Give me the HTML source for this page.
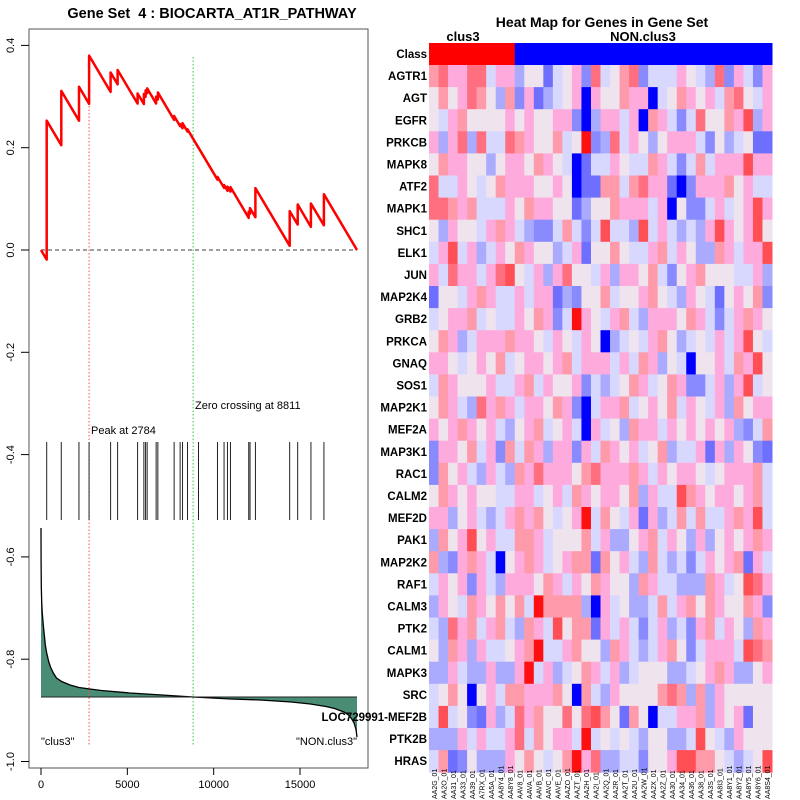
<!DOCTYPE html>
<html><head><meta charset="utf-8"><style>
body{margin:0;background:#fff}
svg{display:block;font-family:"Liberation Sans",sans-serif}
</style></head><body>
<svg id="c" width="800" height="800" viewBox="0 0 800 800" xmlns="http://www.w3.org/2000/svg">
<text x="212" y="18" font-size="14.5" font-weight="bold" text-anchor="middle" xml:space="preserve">Gene Set  4 : BIOCARTA_AT1R_PATHWAY</text>
<rect x="29" y="29" width="339" height="739" fill="none" stroke="#555" stroke-width="1"/>
<g id="left"></g>
<text x="602" y="27" font-size="14" font-weight="bold" text-anchor="middle">Heat Map for Genes in Gene Set</text>
<text x="463" y="41" font-size="13" font-weight="bold" text-anchor="middle">clus3</text>
<text x="643" y="41" font-size="13" font-weight="bold" text-anchor="middle">NON.clus3</text>
<g id="heat"></g>
</svg>
<script>
const NS="http://www.w3.org/2000/svg";
const N=18300;
const hitRanks=[330,1174,2198,2784,4031,4436,5593,5957,6055,6148,6668,6767,7710,8057,8196,8485,9121,10220,10601,10798,10972,12030,12105,12418,14400,14864,15633,16385];
const esTop=[0.253,0.311,0.319,0.380,0.347,0.352,0.306,0.305,0.312,0.316,0.300,0.308,0.262,0.246,0.248,0.236,0.200,0.143,0.127,0.124,0.123,0.075,0.082,0.121,0.076,0.089,0.091,0.109];
const yTicks=[0.4,0.2,0.0,-0.2,-0.4,-0.6,-0.8,-1.0];
const yTickLabels=["0.4","0.2","0.0","-0.2","-0.4","-0.6","-0.8","-1.0"];
const xTicks=[0,5000,10000,15000];
const metricRanks=[0,8,20,40,70,133,200,250,330,450,550,711,900,1200,1677,2200,2834,3500,5147,7000,8811,11000,12700,14500,15600,16500,17000,17550,17800,18000,18130,18250,18300];
const metricVals=[1.69,1.35,1.1,0.95,0.85,0.72,0.6,0.52,0.44,0.35,0.30,0.24,0.19,0.155,0.12,0.095,0.08,0.065,0.04,0.02,0,-0.02,-0.03,-0.05,-0.07,-0.095,-0.115,-0.15,-0.18,-0.22,-0.26,-0.33,-0.40];
const peakRank=2784, zeroRank=8811;
const genes=["AGTR1","AGT","EGFR","PRKCB","MAPK8","ATF2","MAPK1","SHC1","ELK1","JUN","MAP2K4","GRB2","PRKCA","GNAQ","SOS1","MAP2K1","MEF2A","MAP3K1","RAC1","CALM2","MEF2D","PAK1","MAP2K2","RAF1","CALM3","PTK2","CALM1","MAPK3","SRC","LOC729991-MEF2B","PTK2B","HRAS"];
const samples=["AA2G","AA2O","AA31","AA33","AA39","A7RX","AA5A","AA8Y4","AA8Y8","AAV8","AAVA","AAVB","AAVC","AAVE","AAZO","AAZT","AA2H","AA2I","AA2Q","AA2R","AA2T","AA2U","AA2W","AA2X","AA2Z","AA30","AA34","AA36","AA38","AA3S","AA8I3","AA8Y1","AA8Y2","AA8Y5","AA8Y6","AA8S4"];
const nClus3=9;
const rows=["qrpprrdppceebdepmrdeqrmdddpedcrmpdmp","eqeprqecqmpbcdepBpeeqppBdeqpepdqredp","edpqeeeepepeeppmBcppdpBqpdmdreeqpscp","pcprcrddrqpeeqdeRmcrdpecepppdmecdebbq","eqppeeceppeqpedBbddpeddqpdmdqdpppspp","rddpedeqpppeepeBbbqqdqrppbBmpppqepdd","rrqpqdddpeqppeebceeqpppdpBemmdpdepsp","ecpeedpqpdcmmdqdmdsddcsdpdcdcpspepse","dpsdpcdpeqpeecdpbeeqeddpqdpeccqpdpps","pdrppdprsedpcpreedpcppeqdmepqeeeddpc","beedpqpddpdppbcmeeqdeepqedcpedbepeqm","deppqdeddpeqpmdRpedpqdcpppeqpdmdpqpe","eqpcdpppqppedpedpeBcdedpqecdedpdpsed","ppedepeqdeppepqdpppdpdqpcedBeepdqpse","dqpeeepddpqdpeepmdcdeqpdeqpmmdpcpsde","eqpdcrpqpdppeqpmBdppqdepeqdpedpcqepp","pepqpepdcepqdepdBpdecqppdpepepepcmdq","mppeqdpmqdqpcppmpdqpepdeqcddpbpcpemb","mqepdcpdcqprpppeqrpppqpdpeppedepppqd","eqpepeeddppdepdqpeppeqcpddsqpeppepqd","ppcepdcdpqpqedepRdqedpbpcdqdqddpqpsd","cqepsepddqqpdeeeqdpccepqdpecpcepepqp","qcmpqpdBepqpdepqqbqepdcqdcdmdpepqbpd","dpepmpdcpppeqpdpeqpeecqpddcccqpdesrp","cpedqpeqeqdRqqqqcBpdeccdqdpqeqpeeqpm","dcrpqdpqdcqpdseqqbpdpdmdpcdmpqdpecqp","ecqpcpddepqRddpqeecqpdcdpqemdpppdsrq","ccpdccpccpRdpcdeqpdpcdeeeccdepqpccep","deqeBepdqqpppqeBqdcpeeeeqrqcqcpeeeee","dsdembpcdrpqeerersqebqeBddppqcpepbee","cccpdpddprdqeppdRdededceeccdsedcpeee","dqbmecccpeqedeqRprccddmeepssqqedcdes"];
const pal={B:"#0000ff",b:"#6f6fff",m:"#8a8aff",c:"#aaaaff",d:"#d8d8ff",e:"#efe3ee",p:"#ffaadd",q:"#ff9aaa",r:"#ff6f80",s:"#ff4f55",R:"#ff1010"};

const xS=r=>41+r*(316/N);
const yS=v=>250-v*511.5;
const mY=v=>697-v*100;
function el(tag,attrs,parent){const e=document.createElementNS(NS,tag);for(const k in attrs)e.setAttribute(k,attrs[k]);parent.appendChild(e);return e;}
const L=document.getElementById('left');

yTicks.forEach((v,i)=>{
 const y=yS(v);
 const t=el('line',{x1:21,x2:29,y1:y,y2:y,stroke:'#000'},L);
 
 
 const tx=el('text',{x:14,y:y,'font-size':11,'text-anchor':'middle',transform:`rotate(-90 14 ${y})`},L);
 tx.textContent=yTickLabels[i];
 
 
});
xTicks.forEach(v=>{
 const x=xS(v);
 const t=el('line',{x1:x,x2:x,y1:768,y2:775,stroke:'#000'},L);
 
 
 const tx=el('text',{x:x,y:788,'font-size':11,'text-anchor':'middle'},L);
 tx.textContent=String(v);
 
 
});

let mp=metricRanks.map((r,i)=>`${xS(r).toFixed(1)},${mY(metricVals[i]).toFixed(1)}`);
const area=el('polygon',{points:`${xS(0)},${mY(0)} `+mp.join(' ')+` ${xS(N)},${mY(0)}`,fill:'#4a8d75'},L);


const mline=el('polyline',{points:mp.join(' '),fill:'none',stroke:'#000','stroke-width':1.3},L);


const base=el('line',{x1:xS(0),x2:xS(N),y1:mY(0),y2:mY(0),stroke:'#222','stroke-width':1},L);



const pl=el('line',{x1:xS(peakRank),x2:xS(peakRank),y1:78,y2:745,stroke:'#ff5050','stroke-dasharray':'1.5 2'},L);


const zl=el('line',{x1:xS(zeroRank),x2:xS(zeroRank),y1:57,y2:745,stroke:'#33cc33','stroke-dasharray':'1.5 2'},L);


const zero=el('line',{x1:xS(0),x2:xS(N),y1:yS(0),y2:yS(0),stroke:'#666','stroke-width':1.3,'stroke-dasharray':'4 3'},L);



hitRanks.forEach(r=>{
 const h=el('line',{x1:xS(r),x2:xS(r),y1:442,y2:520,stroke:'#222','stroke-width':1},L);
 
 
});

const slope=esTop[esTop.length-1]/(N-hitRanks[hitRanks.length-1]);
let pts=[[0,0]];let prevR=0,prevV=0;
hitRanks.forEach((r,i)=>{const v=prevV-slope*(r-prevR);pts.push([r,v]);pts.push([r,esTop[i]]);prevR=r;prevV=esTop[i];});
pts.push([N,prevV-slope*(N-prevR)]);
const es=el('polyline',{points:pts.map(p=>`${xS(p[0]).toFixed(1)},${yS(p[1]).toFixed(1)}`).join(' '),fill:'none',stroke:'#ff0000','stroke-width':2.5,'stroke-linejoin':'round'},L);



function txt(x,y,s,name,extra){const t=el('text',Object.assign({x:x,y:y,'font-size':11},extra||{}),L);t.textContent=s;}
txt(91,434,'Peak at 2784','peak-label');
txt(195,409,'Zero crossing at 8811','zero-crossing-label');
txt(41,745,'"clus3"','clus3-label');
txt(357,745,'"NON.clus3"','non-clus3-label',{'text-anchor':'end'});

const H=document.getElementById('heat');
const hx0=429,hx1=772,cw=(hx1-hx0)/samples.length,rh=22.1,cy0=43,ry0=65,lx=427;
samples.forEach((s,j)=>{
 const r=el('rect',{x:hx0+j*cw,y:cy0,width:cw+0.5,height:22,fill:j<nClus3?'#ff0000':'#0000ff'},H);
 
 
});
const cl=el('text',{x:lx,y:58,'font-size':11.5,'font-weight':'bold','text-anchor':'end'},H);cl.textContent='Class';


genes.forEach((g,i)=>{
 const row=(rows[i]+'eeeeeeeeeeeeeeeeeeeeeeeeeeeeeeeeeeee').slice(0,samples.length);
 const y=ry0+i*rh;
 for(let j=0;j<samples.length;j++){
  const r=el('rect',{x:hx0+j*cw,y:y,width:cw+0.5,height:rh+0.5,fill:pal[row[j]]||'#efe3ee'},H);
  
  
 }
 const t=el('text',{x:lx,y:y+rh/2+4,'font-size':11.5,'font-weight':'bold','text-anchor':'end'},H);
 t.textContent=g;
 
 
});
samples.forEach((s,j)=>{
 const x=hx0+j*cw+cw/2+3;
 const t=el('text',{x:x,y:799,'font-size':7,'text-anchor':'start',transform:`rotate(-90 ${x} 799)`},H);
 t.textContent=s+'_01';
 
 
});
</script>
</body></html>
